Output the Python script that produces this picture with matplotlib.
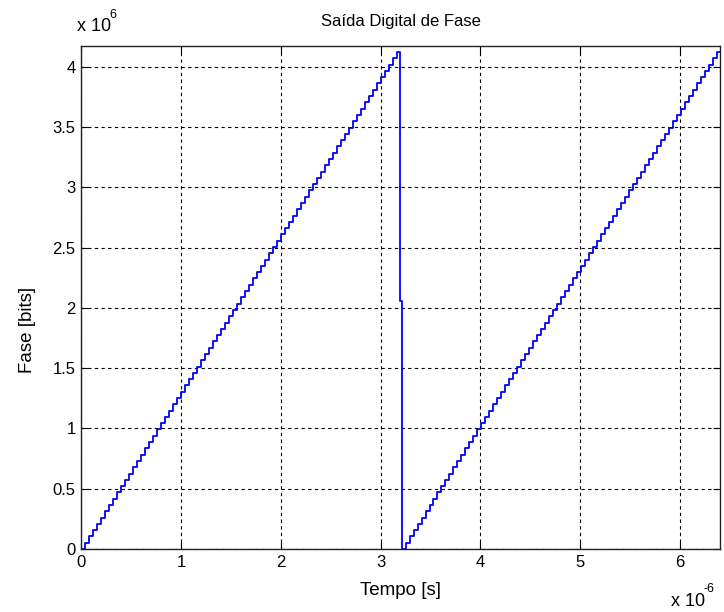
import matplotlib.pyplot as plt
import numpy as np

# amostras do acumulador de fase (x 10^6 bits), um ciclo de 80 amostras
fase_ciclo = [0.000, 0.052, 0.104, 0.157, 0.209, 0.261, 0.313, 0.365, 0.418, 0.470,
              0.522, 0.574, 0.626, 0.679, 0.731, 0.783, 0.835, 0.887, 0.940, 0.992,
              1.044, 1.096, 1.148, 1.201, 1.253, 1.305, 1.357, 1.409, 1.462, 1.514,
              1.566, 1.618, 1.670, 1.723, 1.775, 1.827, 1.879, 1.931, 1.984, 2.036,
              2.088, 2.140, 2.192, 2.245, 2.297, 2.349, 2.401, 2.453, 2.506, 2.558,
              2.610, 2.662, 2.714, 2.767, 2.819, 2.871, 2.923, 2.975, 3.028, 3.080,
              3.132, 3.184, 3.236, 3.289, 3.341, 3.393, 3.445, 3.497, 3.550, 3.602,
              3.654, 3.706, 3.758, 3.811, 3.863, 3.915, 3.967, 4.019, 4.072, 4.124]
periodo_us = 0.04          # periodo do clock (us)
t_queda = [3.19, 3.21]     # instantes da queda (us)
fase_queda = [2.06, 0.000]
inicio_rampa2 = 3.21       # inicio da segunda rampa (us)

xticks = [0, 1, 2, 3, 4, 5, 6]
yticks = [0, 0.5, 1, 1.5, 2, 2.5, 3, 3.5, 4]
ytick_labels = ['0', '0.5', '1', '1.5', '2', '2.5', '3', '3.5', '4']


def main():
    n = len(fase_ciclo)
    t1 = np.arange(n) * periodo_us
    t2 = inicio_rampa2 + np.arange(n) * periodo_us
    t = np.concatenate([t1, t_queda, t2[1:], [6.45]])
    f = np.concatenate([fase_ciclo, fase_queda, fase_ciclo[1:], [fase_ciclo[-1]]])

    plt.rcParams['font.family'] = ['Liberation Sans', 'DejaVu Sans']
    fig = plt.figure(figsize=(7.24, 6.12), dpi=100)
    ax = fig.add_axes([0.112, 0.103, 0.8825, 0.822])

    ax.plot(t, f, color='#0000ff', linewidth=1.3, drawstyle='steps-post')

    ax.set_xlim(0, 6.4)
    ax.set_ylim(0, 4.175)
    ax.set_xticks(xticks)
    ax.set_yticks(yticks)
    ax.set_yticklabels(ytick_labels)
    ax.tick_params(direction='in', top=True, right=True, length=5,
                   labelsize=12, pad=4)
    ax.grid(True, color='black', linestyle=(0, (3, 3)), linewidth=0.8)
    for s in ax.spines.values():
        s.set_linewidth(1.0)
        s.set_color('#222222')

    ax.set_title('Saída Digital de Fase', fontsize=12, pad=14)
    ax.set_xlabel('Tempo [s]', fontsize=13.5)
    ax.set_ylabel('Fase [bits]', fontsize=13.5)
    ax.xaxis.set_label_coords(0.5, -0.065)
    ax.yaxis.set_label_coords(-0.071, 0.435)

    # fatores de escala no estilo MATLAB
    fig.text(0.107, 0.942, 'x 10', fontsize=13, ha='left', va='bottom')
    fig.text(0.151, 0.966, '6', fontsize=9, ha='left', va='bottom')
    fig.text(0.927, 0.004, 'x 10', fontsize=13, ha='left', va='bottom')
    fig.text(0.971, 0.028, '-6', fontsize=9, ha='left', va='bottom')

    fig.savefig('out.png', dpi=100)


if __name__ == '__main__':
    main()
